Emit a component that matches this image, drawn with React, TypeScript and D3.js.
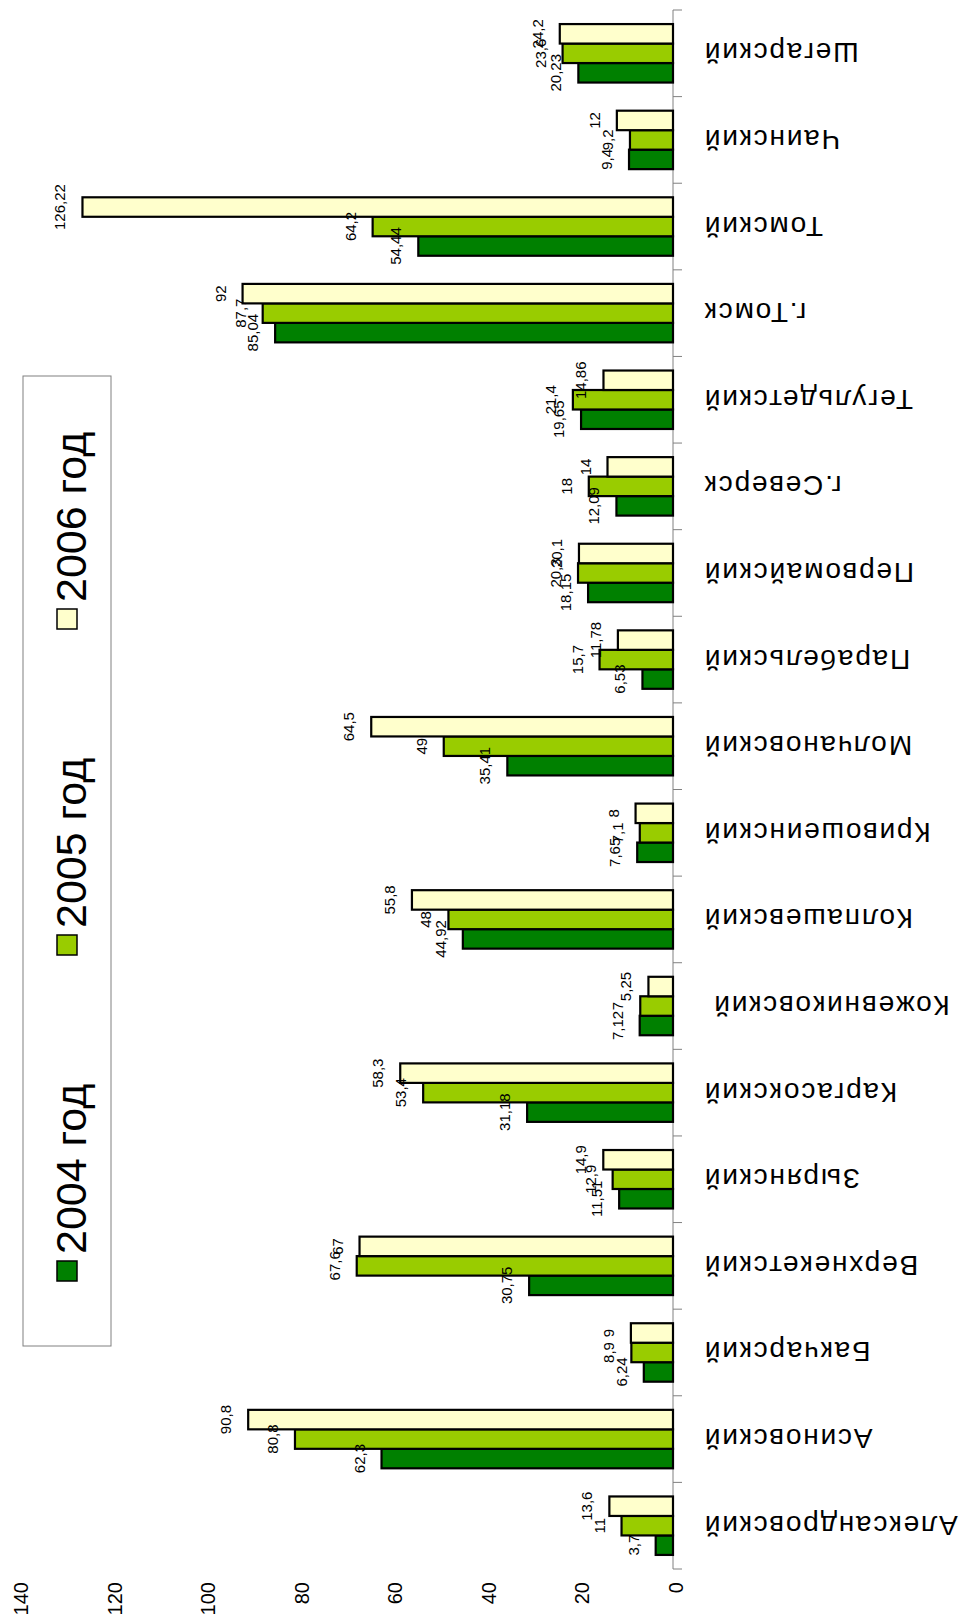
import * as d3 from "d3";
import React, { useRef, useEffect } from "react";

const categories = [
	"Александровский", "Асиновский", "Бакчарский", "Верхнекетский", "Зырянский",
	"Каргасокский", "Кожевниковский ", "Колпашевский", "Кривошеинский", "Молчановский",
	"Парабельский", "Первомайский", "г.Северск", "Тегульдетский", "г.Томск",
	"Томский", "Чаинский", "Шегарский",
];
const seriesNames = ["2004 год", "2005 год", "2006 год"];
const values2004 = [3.7, 62.3, 6.24, 30.75, 11.51, 31.18, 7.12, 44.92, 7.65, 35.41, 6.53, 18.15, 12.09, 19.65, 85.04, 54.44, 9.4, 20.23];
const values2005 = [11, 80.8, 8.9, 67.6, 12.9, 53.4, 7, 48, 7.1, 49, 15.7, 20.3, 18, 21.4, 87.7, 64.2, 9.2, 23.6];
const values2006 = [13.6, 90.8, 9, 67, 14.9, 58.3, 5.25, 55.8, 8, 64.5, 11.78, 20.1, 14, 14.86, 92, 126.22, 12, 24.2];
const valueTicks = [0, 20, 40, 60, 80, 100, 120, 140];
const colors = ["#008000", "#99CC00", "#FFFFCC"];

const W = 963;
const H = 1616;
const font = "'Liberation Sans', Arial, sans-serif";

const App = () => {
	const d3Container = useRef(null);

	useEffect(() => {
		if (!d3Container.current) return;
		const svg = d3.select(d3Container.current);
		svg.selectAll("*").remove();

		const xScale = d3.scaleLinear().domain([0, 140]).range([673, 18]);
		// chart is turned on its side: first category at the bottom
		const yScale = d3
			.scaleBand()
			.domain(categories)
			.range([1569, 10])
			.paddingInner(0.325)
			.paddingOuter(0.1625);
		const inner = d3
			.scaleBand()
			.domain(["2006 год", "2005 год", "2004 год"])
			.range([0, yScale.bandwidth()]);

		const table = categories.map((c, i) => ({
			cat: c,
			vals: [values2004[i], values2005[i], values2006[i]],
		}));

		// category axis line + ticks
		const axis = svg.append("g");
		axis.append("line")
			.attr("x1", 673).attr("x2", 673)
			.attr("y1", 10).attr("y2", 1569)
			.attr("stroke", "#808080").attr("stroke-width", 1);
		const step = yScale.step();
		d3.range(categories.length + 1).forEach((k) => {
			const y = 10 + k * step;
			axis.append("line")
				.attr("x1", 673).attr("x2", 682)
				.attr("y1", y).attr("y2", y)
				.attr("stroke", "#808080").attr("stroke-width", 1);
		});

		// category labels, upside down
		svg.append("g")
			.selectAll("text")
			.data(categories)
			.enter()
			.append("text")
			.attr("transform", (d: any) => `translate(703,${(yScale(d) as number) + yScale.bandwidth() / 2 - 10}) rotate(180)`)
			.attr("text-anchor", "end")
			.attr("font-family", font)
			.attr("font-size", 28)
			.attr("letter-spacing", 1.8)
			.style("white-space", "pre")
			.text((d: any) => d);

		// value tick labels
		svg.append("g")
			.selectAll("text")
			.data(valueTicks)
			.enter()
			.append("text")
			.attr("transform", (d: any) => `translate(${xScale(d) + 10},1582) rotate(-90)`)
			.attr("text-anchor", "end")
			.attr("font-family", font)
			.attr("font-size", 20)
			.text((d: any) => d);

		// bars
		const group = svg
			.selectAll(".bar-group")
			.data(table)
			.enter()
			.append("g")
			.attr("class", "bar-group")
			.attr("transform", (d: any) => `translate(0,${yScale(d.cat)})`);

		seriesNames.forEach((s, si) => {
			group.append("rect")
				.attr("x", (d: any) => xScale(d.vals[si]))
				.attr("y", inner(s) as number)
				.attr("width", (d: any) => xScale(0) - xScale(d.vals[si]))
				.attr("height", inner.bandwidth())
				.attr("fill", colors[si])
				.attr("stroke", "#000")
				.attr("stroke-width", 2.2);
		});

		seriesNames.forEach((s, si) => {
			group.append("text")
				.attr("transform", (d: any) => `translate(${xScale(d.vals[si]) - 17},${(inner(s) as number) + inner.bandwidth() / 2}) rotate(-90)`)
				.attr("text-anchor", "middle")
				.attr("font-family", font)
				.attr("font-size", 15)
				.text((d: any) => String(d.vals[si]).replace(".", ","));
		});

		// legend
		const legend = svg.append("g");
		legend.append("rect")
			.attr("x", 23).attr("y", 376)
			.attr("width", 88).attr("height", 970)
			.attr("fill", "#fff")
			.attr("stroke", "#808080").attr("stroke-width", 1);
		const legendBottoms = [1281, 955, 629];
		seriesNames.forEach((s, si) => {
			const yb = legendBottoms[si];
			legend.append("rect")
				.attr("x", 57).attr("y", yb - 20)
				.attr("width", 20).attr("height", 20)
				.attr("fill", colors[si])
				.attr("stroke", "#000").attr("stroke-width", 1.5);
			legend.append("text")
				.attr("transform", `translate(86,${yb - 27}) rotate(-90)`)
				.attr("font-family", font)
				.attr("font-size", 43)
				.text(s);
		});
	}, []);

	return (
		<svg
			ref={d3Container}
			width={W}
			height={H}
			style={{ position: "absolute", left: 0, top: 0, background: "white" }}
		/>
	);
};

export default App;
